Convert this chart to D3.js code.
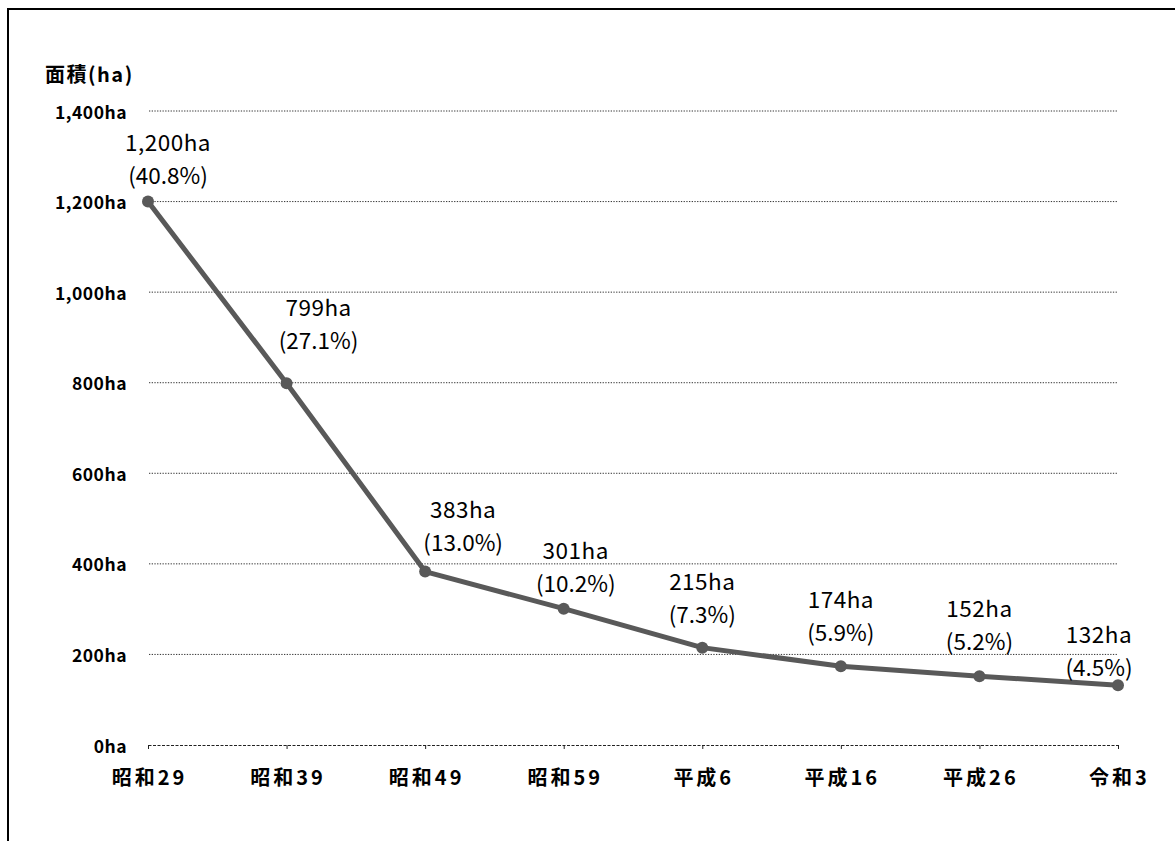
<!DOCTYPE html>
<html>
<head>
<meta charset="utf-8">
<script src="https://cdn.jsdelivr.net/npm/d3@7"></script>
<style>
  html, body { margin: 0; padding: 0; background: #fff; }
  svg { display: block; }
</style>
</head>
<body>
<svg id="chart" width="1175" height="841"></svg>
<script>
// Farmland area by survey year
const categories = ["昭和29", "昭和39", "昭和49", "昭和59", "平成6", "平成16", "平成26", "令和3"];
const areaHa = [1200, 799, 383, 301, 215, 174, 152, 132];
const sharePct = ["40.8", "27.1", "13.0", "10.2", "7.3", "5.9", "5.2", "4.5"];
const yTicks = [0, 200, 400, 600, 800, 1000, 1200, 1400];
const yTitle = "面積(ha)";

// Per-point nudges for the value labels (px from the marker)
const labelDx = [20, 32, 38, 12, 0, 0, 0, -19];
const labelDy = [-61, -77, -64, -60, -68, -68, -69, -52];

const svg = d3.select("#chart");
const W = 1175, H = 841;

// outer frame
svg.append("rect")
  .attr("x", 8).attr("y", 9)
  .attr("width", W + 20).attr("height", H + 20)
  .attr("fill", "#fff").attr("stroke", "#000").attr("stroke-width", 2);

const x = d3.scalePoint().domain(categories).range([148, 1118]);
const y = d3.scaleLinear().domain([0, 1400]).range([745, 111]);

const fmt = d3.format(",");
const jp = "'Noto Sans CJK JP', 'Noto Sans', sans-serif";

// dotted gridlines
svg.append("g")
  .selectAll("line")
  .data(yTicks.filter(d => d > 0))
  .join("line")
  .attr("x1", 149).attr("x2", 1118)
  .attr("y1", d => y(d)).attr("y2", d => y(d))
  .attr("stroke", "#333").attr("stroke-width", 1)
  .attr("stroke-dasharray", "1.3,1.4");

// y tick labels
svg.append("g")
  .selectAll("text")
  .data(yTicks)
  .join("text")
  .attr("x", 127).attr("y", d => y(d))
  .attr("text-anchor", "end")
  .attr("dominant-baseline", "central")
  .attr("font-family", jp).attr("font-weight", "bold")
  .attr("font-size", 17.5).attr("letter-spacing", 0.5)
  .attr("fill", "#000")
  .text(d => fmt(d) + "ha");

// y axis title
svg.append("text")
  .attr("x", 45).attr("y", 73)
  .attr("dominant-baseline", "central")
  .attr("font-family", jp).attr("font-weight", "bold")
  .attr("font-size", 20).attr("letter-spacing", 1.5)
  .attr("fill", "#000")
  .text(yTitle);

// x axis: dashed baseline with downward ticks
const xAxis = d3.axisBottom(x).tickSize(4).tickSizeOuter(0).tickFormat("");
const gx = svg.append("g").attr("transform", `translate(0,${y(0)})`).call(xAxis);
gx.select(".domain")
  .attr("stroke", "#222").attr("stroke-width", 1.2)
  .attr("stroke-dasharray", "3,1.5");
gx.selectAll(".tick line").attr("stroke", "#222");

// category labels
svg.append("g")
  .selectAll("text")
  .data(categories)
  .join("text")
  .attr("x", d => x(d) + 1.5).attr("y", 776)
  .attr("text-anchor", "middle")
  .attr("dominant-baseline", "central")
  .attr("font-family", jp).attr("font-weight", "bold")
  .attr("font-size", 20).attr("letter-spacing", 3)
  .attr("fill", "#000")
  .text(d => d);

// series line
const series = categories.map((c, i) => ({ c, v: areaHa[i], p: sharePct[i], i }));
const line = d3.line().x(d => x(d.c)).y(d => y(d.v));
svg.append("path")
  .datum(series)
  .attr("d", line)
  .attr("fill", "none")
  .attr("stroke", "#595959").attr("stroke-width", 5)
  .attr("stroke-linejoin", "round");

svg.append("g")
  .selectAll("circle")
  .data(series)
  .join("circle")
  .attr("cx", d => x(d.c)).attr("cy", d => y(d.v))
  .attr("r", 6)
  .attr("fill", "#595959");

// value labels: area on the first line, share below
const lbl = svg.append("g")
  .selectAll("text")
  .data(series)
  .join("text")
  .attr("text-anchor", "middle")
  .attr("font-family", jp)
  .attr("font-size", 22.5)
  .attr("fill", "#000");
lbl.append("tspan")
  .attr("x", d => x(d.c) + labelDx[d.i])
  .attr("y", d => y(d.v) + labelDy[d.i])
  .attr("dominant-baseline", "central")
  .attr("letter-spacing", 0.5)
  .text(d => fmt(d.v) + "ha");
lbl.append("tspan")
  .attr("x", d => x(d.c) + labelDx[d.i])
  .attr("y", d => y(d.v) + labelDy[d.i] + 33)
  .attr("dominant-baseline", "central")
  .text(d => "(" + d.p + "%)");
</script>
</body>
</html>
